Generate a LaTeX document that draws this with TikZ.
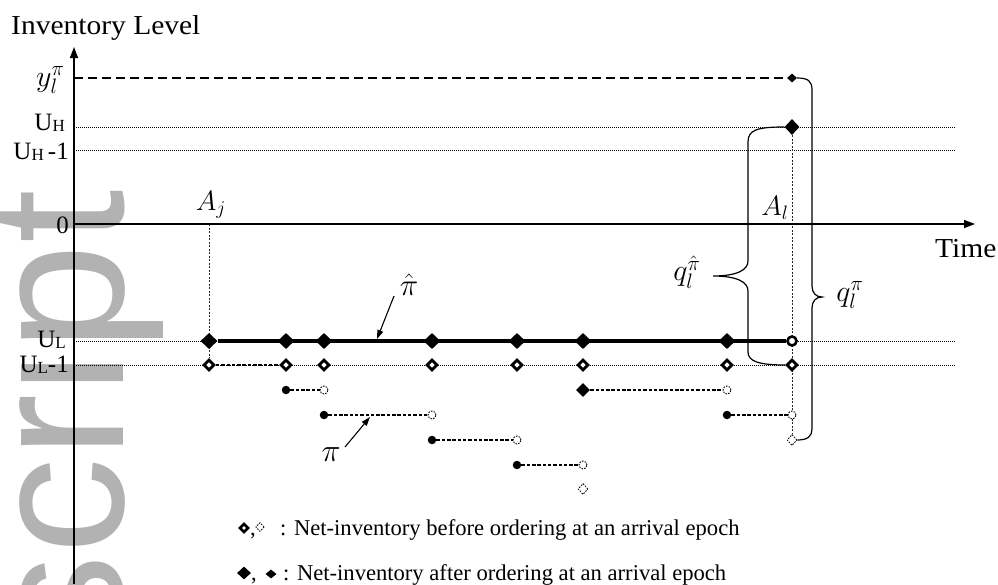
\documentclass[tikz,border=0pt]{standalone}
\usepackage{fontspec}
\usepackage{graphicx}
\setmainfont{Liberation Serif}
\newfontfamily\wmfont{Liberation Sans}
\usetikzlibrary{shapes.geometric,arrows.meta}
\pgfdeclarelayer{wm}
\pgfdeclarelayer{lines}
\pgfsetlayers{wm,lines,main}
\newcommand\subU[1]{U{\fontsize{17}{17}\selectfont\raisebox{-1.5pt}{#1}}}
\begin{document}
\begin{tikzpicture}[x=1pt,y=-1pt,
  lbl/.style={inner sep=0, yscale=#1, transform shape},
  lbl/.default=0.93,
  big/.style={lbl, font=\fontsize{29.5}{30}\selectfont},
  leg/.style={lbl=1, font=\fontsize{22.6}{24}\selectfont},
  axl/.style={inner sep=0, font=\fontsize{25}{26}\selectfont},
  mth/.style={inner sep=0, font=\fontsize{20.74}{22}\selectfont, scale=#1, transform shape},
  mth/.default=1.45,
  fdia/.style={diamond, fill=black, inner sep=0, minimum width=17pt, minimum height=16pt},
  mdia/.style={diamond, fill=black, inner sep=0, minimum width=14pt, minimum height=14pt},
  sdia/.style={diamond, fill=black, inner sep=0, minimum width=10pt, minimum height=9pt},
  odia/.style={diamond, draw, fill=white, line width=2.8pt, inner sep=0, minimum width=11pt, minimum height=11pt},
  ddia/.style={diamond, draw, fill=white, line width=0.8pt, dash pattern=on 1.6pt off 1.2pt, inner sep=0, minimum width=10pt, minimum height=11pt},
  fdot/.style={circle, fill=black, inner sep=0, minimum size=8.5pt},
  ocir/.style={circle, draw, fill=white, line width=0.9pt, dash pattern=on 1.6pt off 1.2pt, inner sep=0, minimum size=8pt},
  tcir/.style={circle, draw, fill=white, line width=2.6pt, inner sep=0, minimum size=9pt},
  guide/.style={line width=0.9pt, dash pattern=on 1pt off 1pt},
  vguide/.style={line width=0.9pt, dash pattern=on 2pt off 1.5pt, black!85},
  seg/.style={line width=1.1pt, dash pattern=on 3.5pt off 1.8pt},
  axis/.style={line width=1.3pt, -{Triangle[length=11pt,width=8pt]}},
  pointer/.style={line width=1.1pt, -{Triangle[length=9pt,width=6pt]}},
  brace/.style={line width=1.2pt}]
\useasboundingbox (0,0) rectangle (998,584);

% faint rotated watermark behind everything
\begin{pgfonlayer}{wm}
  \node[rotate=90, anchor=base east, inner sep=0, text=gray!60,
        font=\wmfont\fontsize{193}{193}\selectfont] (wmark) at (123,190) {script};
\end{pgfonlayer}

% axes
\coordinate (o) at (74,224);
\coordinate (ybot) at (74,584);
\coordinate (ytop) at (74,47);
\coordinate (xend) at (975,224);
\draw[axis] (ybot) -- (ytop);
\draw[axis] (o) -- (xend);

% axis and level labels
\node[big, anchor=base west] (title) at (11,34) {Inventory Level};
\node[big, anchor=base west] (time) at (935,257) {Time};
\node[mth, anchor=east] (ylab) at (65,80) {$y_l^{\pi}$};
\node[axl, anchor=base east] (uhlab) at (65,130) {\subU{H}};
\node[axl, anchor=base east] (uh1lab) at (69,159) {\subU{H}\,-1};
\node[axl, anchor=base east] (zlab) at (69,233) {0};
\node[axl, anchor=base east] (ullab) at (66,347) {\subU{L}};
\node[axl, anchor=base east] (ul1lab) at (69,372) {\subU{L}-1};
\node[mth=1.35] (ajlab) at (211,205) {$A_j$};
\node[mth=1.35] (allab) at (775,208) {$A_l$};

% guide line end points
\coordinate (yl0) at (74,78);
\coordinate (uh0) at (74,127);   \coordinate (uh1) at (955,127);
\coordinate (uhm0) at (74,150);  \coordinate (uhm1) at (955,150);
\coordinate (ul0) at (74,341);   \coordinate (ul1) at (955,341);
\coordinate (ulm0) at (74,365);  \coordinate (ulm1) at (955,365);
\coordinate (aj0) at (209,224);

% markers at the arrival epochs: after ordering (row a), before ordering (row b)
\foreach \i/\x in {1/209,2/286,3/324,4/432,5/517,6/583,7/727}{
  \node[fdia] (a\i) at (\x,341) {};
}
\node[tcir] (a8) at (792,341) {};
\foreach \i/\x in {1/209,2/286,3/324,4/432,5/517,6/583,7/727,8/792}{
  \node[odia] (b\i) at (\x,365) {};
}

% markers at the top of the last epoch
\node[sdia] (ylt) at (792,78) {};
\node[fdia, minimum width=15pt, minimum height=16pt] (uhd) at (792,127) {};

% policy pi trajectory pieces
\node[fdot] (p1s) at (286,390) {};  \node[ocir] (p1e) at (324,390) {};
\node[fdot] (p2s) at (324,415) {};  \node[ocir] (p2e) at (432,415) {};
\node[fdot] (p3s) at (432,440) {};  \node[ocir] (p3e) at (517,440) {};
\node[fdot] (p4s) at (517,465) {};  \node[ocir] (p4e) at (583,465) {};
\node[ddia] (dd1) at (583,489) {};
\node[mdia] (p5s) at (583,390) {};  \node[ocir] (p5e) at (727,390) {};
\node[fdot] (p6s) at (727,415) {};  \node[ocir] (p6e) at (792,415) {};
\node[ddia] (dd2) at (792,440) {};

% policy labels with pointers
\node[mth=1.5] (pihat) at (409,285) {$\hat{\pi}$};
\coordinate (phs) at (394,296);
\coordinate (pht) at (377,339);
\node[mth=1.55] (pi) at (331,455) {$\pi$};
\coordinate (pis) at (345,447);
\coordinate (pit) at (370,417);
\draw[pointer] (phs) -- (pht);
\draw[pointer] (pis) -- (pit);

% brace labels
\node[mth] (qhat) at (687,272) {$q_l^{\hat{\pi}}$};
\node[mth] (qpi) at (850,295) {$q_l^{\pi}$};

% legend
\node[odia, minimum width=9pt, minimum height=9pt, line width=2.6pt] (lg1a) at (244,528) {};
\node[leg, anchor=base west] (lgc1) at (250,535) {,};
\node[ddia, minimum width=8.5pt, minimum height=9pt, line width=0.8pt] (lg1b) at (260,527) {};
\node[leg, anchor=base west] (lgt1) at (280,535) {: Net-inventory before ordering at an arrival epoch};
\node[fdia, minimum width=14pt, minimum height=13pt] (lg2a) at (244,573) {};
\node[leg, anchor=base west] (lgc2) at (251,580) {,};
\node[sdia, minimum width=11pt, minimum height=9pt] (lg2b) at (271,574) {};
\node[leg, anchor=base west] (lgt2) at (283,580) {: Net-inventory after ordering at an arrival epoch};

\begin{pgfonlayer}{lines}
  % level guides
  \draw[line width=1.2pt, dash pattern=on 9pt off 5pt] (yl0) -- (ylt);
  \draw[guide] (uh0) -- (uh1);
  \draw[guide] (uhm0) -- (uhm1);
  \draw[guide] (ul0) -- (ul1);
  \draw[guide] (ulm0) -- (ulm1);
  % epoch guides
  \draw[vguide] (aj0) -- (b1);
  \draw[vguide] (uhd) -- (dd2);
  % policy pi-hat: constant at U_L
  \draw[line width=3.4pt] (a1) -- (a8);
  \draw[seg] (b1) -- (b2);
  % policy pi pieces
  \foreach \k in {1,...,6}{ \draw[seg] (p\k s) -- (p\k e); }
  % braces
  \draw[brace] (uhd.west) .. controls (757,127) and (748,130) .. (748,142)
    -- (748,261) .. controls (748,270) and (737,276) .. (713,276)
    .. controls (737,276) and (748,282) .. (748,291)
    -- (748,352) .. controls (748,361) and (758,365) .. (b8.west);
  \draw[brace] (ylt.east) .. controls (808,78) and (812,81) .. (812,90)
    -- (812,286) .. controls (812,293) and (816,297) .. (822,297)
    .. controls (816,297) and (812,301) .. (812,308)
    -- (812,429) .. controls (812,436) and (808,440) .. (dd2.east);
\end{pgfonlayer}
\end{tikzpicture}
\end{document}
